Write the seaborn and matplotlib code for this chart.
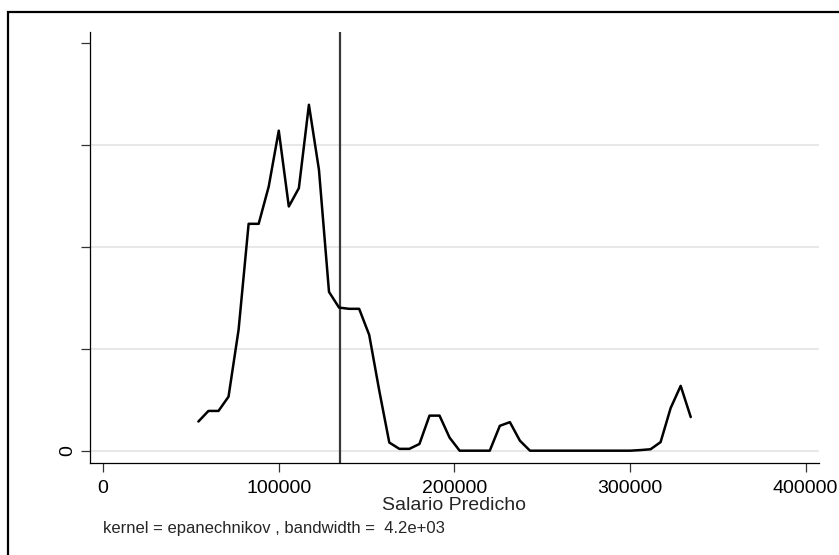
import matplotlib
matplotlib.use("Agg")
import matplotlib.pyplot as plt
import seaborn as sns
import pandas as pd
from matplotlib.patches import Rectangle

# Evaluation grid of the kernel density (Salario Predicho)
salario = [54300, 60020, 65740, 71460, 77180, 82900, 88620, 94340, 100060, 105780,
           111500, 117220, 122940, 128660, 134380, 140100, 145820, 151540, 157260, 162980,
           168700, 174420, 180140, 185860, 191580, 197300, 203020, 208740, 214460, 220180,
           225900, 231620, 237340, 243060, 248780, 254500, 260220, 265940, 271660, 277380,
           283100, 288820, 294540, 300260, 305980, 311700, 317420, 323140, 328860, 334580]
# Density values (x 1e-6)
densidad = [1.43, 1.95, 1.95, 2.65, 5.93, 11.13, 11.13, 12.96, 15.70, 11.98,
            12.88, 16.97, 13.78, 7.79, 7.02, 6.96, 6.96, 5.68, 2.95, 0.40,
            0.09, 0.09, 0.33, 1.72, 1.72, 0.64, 0.0, 0.0, 0.0, 0.0,
            1.22, 1.40, 0.49, 0.0, 0.0, 0.0, 0.0, 0.0, 0.0, 0.0,
            0.0, 0.0, 0.0, 0.0, 0.03, 0.07, 0.42, 2.09, 3.18, 1.65]
media_salario = 135200
yticks = [0, 5e-6, 1e-5, 1.5e-5, 2e-5]
ytick_labels = ["0", "", "", "", ""]
xticks = [0, 100000, 200000, 300000, 400000]
xtick_labels = ["0", "100000", "200000", "300000", "400000"]
xlabel = "Salario Predicho"
note = "kernel = epanechnikov , bandwidth =  4.2e+03"

df = pd.DataFrame({"x": salario, "y": [d * 1e-6 for d in densidad]})

sns.set_style("white")
plt.rcParams["font.family"] = ["Liberation Sans", "DejaVu Sans"]

W, H = 839, 555
fig = plt.figure(figsize=(W / 100, H / 100), dpi=100)
fig.patch.set_facecolor("white")

# outer frame
fig.patches.append(Rectangle((8 / W, -0.1), (840 - 8) / W, 1.1 - 12 / H,
                             transform=fig.transFigure, fill=False,
                             edgecolor="black", linewidth=1.6, zorder=0))

ax = fig.add_axes([90 / W, (H - 463) / H, (819 - 90) / W, (463 - 32) / H])
ax.set_facecolor("white")

for yt in yticks[:4]:
    ax.axhline(yt, color="#e6e6e6", linewidth=1.3, zorder=0)

sns.lineplot(data=df, x="x", y="y", ax=ax, color="black", linewidth=1.8, zorder=3)
ax.axvline(media_salario, color="#383838", linewidth=1.6, zorder=2)

ax.set_xlim(-7400, 407600)
ax.set_ylim(-6.04e-7, 2.054e-5)

ax.set_xticks(xticks)
ax.set_xticklabels(xtick_labels, fontsize=14)
ax.set_yticks(yticks)
ax.set_yticklabels(ytick_labels, fontsize=14, rotation=90, va="center")

ax.tick_params(axis="both", which="both", direction="out", length=6.2, width=0.9,
               color="#333333", labelcolor="black", bottom=True, left=True)
ax.tick_params(axis="x", pad=6)
ax.tick_params(axis="y", pad=3.5)

for s in ["top", "right"]:
    ax.spines[s].set_visible(False)
for s in ["left", "bottom"]:
    ax.spines[s].set_color("black")
    ax.spines[s].set_linewidth(0.9)

ax.set_xlabel(xlabel, fontsize=14, labelpad=0)
ax.set_ylabel("")

fig.text(103 / W, 1 - 528 / H, note, fontsize=12, ha="left", va="center")

fig.savefig("out.png", dpi=100, facecolor="white")
